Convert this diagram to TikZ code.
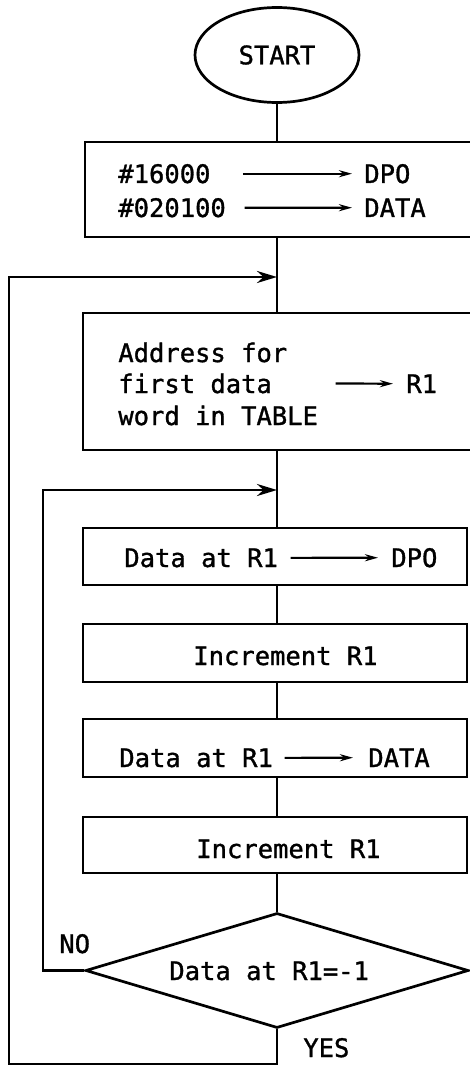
\documentclass[tikz,border=0pt]{standalone}
\usepackage{fontspec}
\newfontfamily\flowmono[FakeBold=1.2]{DejaVu Sans Mono}
\usetikzlibrary{shapes.geometric,arrows.meta}
\begin{document}
\begin{tikzpicture}[x=1pt,y=-1pt,
  line width=2.7pt,
  box/.style={draw,rectangle,inner sep=0pt,line width=2.7pt},
  txt/.style={anchor=base west,inner sep=0pt,font=\flowmono\fontsize{25.5}{30}\selectfont},
  loopar/.style={line width=2.7pt,-{Stealth[length=20pt,width=12pt]}},
  tarr/.style={line width=2.2pt,-{Stealth[length=13pt,width=7pt]}},
]
\useasboundingbox (0,0) rectangle (469,1067);

% start
\node[draw,ellipse,line width=2.7pt,minimum width=164pt,minimum height=95pt,inner sep=0pt,
      font=\flowmono\fontsize{25.5}{30}\selectfont] (start) at (277,55) {START};

% boxes
\node[box,minimum width=388pt,minimum height=95pt]  (b1) at (279,189.5) {};
\node[box,minimum width=389pt,minimum height=137pt] (b2) at (277.5,381.5) {};
\node[box,minimum width=384pt,minimum height=57pt]  (b3) at (275,556.5) {};
\node[box,minimum width=384pt,minimum height=58pt]  (b4) at (275,653) {};
\node[box,minimum width=384pt,minimum height=58pt]  (b5) at (275,748) {};
\node[box,minimum width=384pt,minimum height=56pt]  (b6) at (275,845) {};
\node[draw,diamond,line width=2.7pt,inner sep=0pt,minimum width=383pt,minimum height=115pt] (dia) at (277,970.5) {};

% texts box1
\node[txt] (t1a) at (117,183) {\#16000};
\node[txt] (t1b) at (363,183) {DPO};
\node[txt] (t2a) at (117,217) {\#020100};
\node[txt] (t2b) at (363,217) {DATA};
\draw[tarr] ([xshift=31pt]t1a.east) -- ([xshift=-11pt]t1b.west);
\draw[tarr] ([xshift=17.5pt]t2a.east) -- ([xshift=-11pt]t2b.west);

% texts box2
\node[txt] (t3a) at (117,362) {Address for};
\node[txt] (t3b) at (117,393) {first data};
\node[txt] (t3c) at (117,425) {word in TABLE};
\node[txt] (t3r) at (405,393) {R1};
\draw[tarr] ([xshift=62.5pt]t3b.east) -- ([xshift=-12pt]t3r.west);

% box3
\node[txt] (t4a) at (123,567) {Data at R1};
\node[txt] (t4b) at (390,567) {DPO};
\draw[tarr] ([xshift=11.5pt]t4a.east) -- ([xshift=-12pt]t4b.west);

% box4
\node[txt] (t5) at (192,665) {Increment R1};

% box5
\node[txt] (t6a) at (118,767) {Data at R1};
\node[txt] (t6b) at (367,767) {DATA};
\draw[tarr] ([xshift=10.5pt]t6a.east) -- ([xshift=-14pt]t6b.west);

% box6
\node[txt] (t7) at (195,858) {Increment R1};

% diamond text
\node[txt] (t8) at (168,980) {Data at R1=-1};

% labels
\node[txt] (no) at (58,953) {NO};
\node[txt] (yes) at (302,1057) {YES};

% spine
\draw (start.south) -- (start.south |- b1.north);
\draw (start.south |- b1.south) -- (start.south |- b2.north);
\draw (start.south |- b2.south) -- (start.south |- b3.north);
\draw (start.south |- b3.south) -- (start.south |- b4.north);
\draw (start.south |- b4.south) -- (start.south |- b5.north);
\draw (start.south |- b5.south) -- (start.south |- b6.north);
\draw (start.south |- b6.south) -- (dia.north);

% loops
\coordinate (j1) at (277,277);
\coordinate (c1) at (9,1064);
\coordinate (j2) at (277,490);
\coordinate (c2) at (43,970.5);
\draw[loopar] (dia.south) |- (c1) |- (j1);
\draw[loopar] (dia.west) -- (c2) |- (j2);
\end{tikzpicture}
\end{document}
